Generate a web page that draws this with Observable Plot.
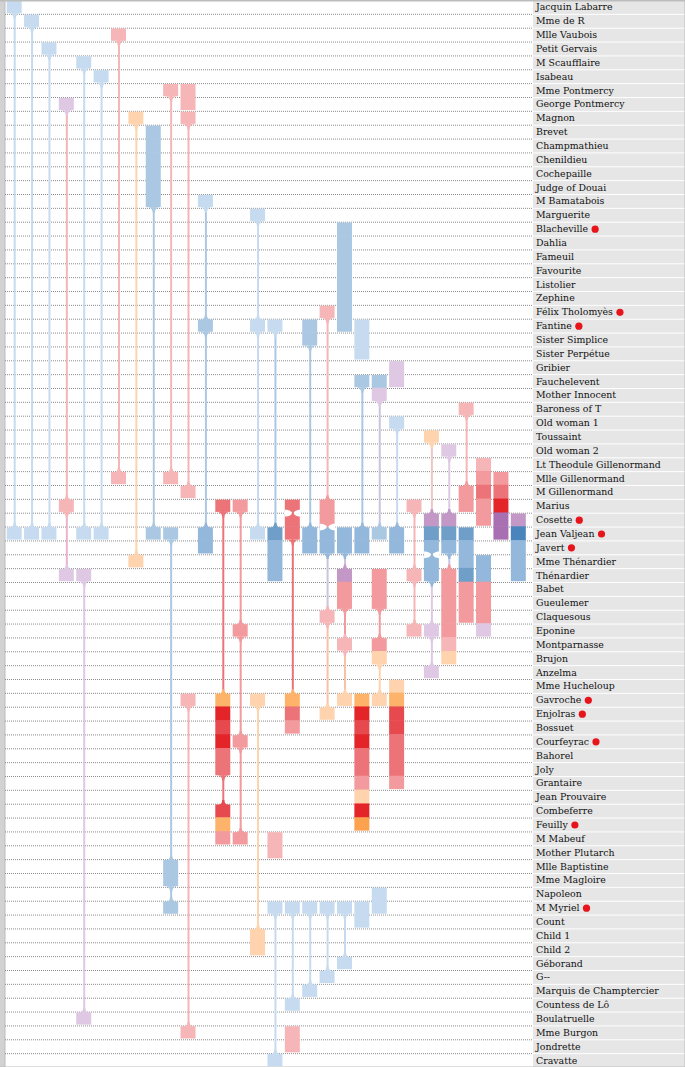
<!DOCTYPE html>
<html><head><meta charset="utf-8">
<script src="https://cdn.jsdelivr.net/npm/d3@7"></script>
<script src="https://cdn.jsdelivr.net/npm/@observablehq/plot@0.6"></script>
<style>body{margin:0;background:#fff}#chart svg{display:block}</style>
</head><body><div id="chart"></div>
<script>
// Characters (rows, top to bottom)
const names = ["Jacquin Labarre","Mme de R","Mlle Vaubois","Petit Gervais","M Scaufflaire","Isabeau","Mme Pontmercy","George Pontmercy","Magnon","Brevet","Champmathieu","Chenildieu","Cochepaille","Judge of Douai","M Bamatabois","Marguerite","Blacheville","Dahlia","Fameuil","Favourite","Listolier","Zephine","Félix Tholomyès","Fantine","Sister Simplice","Sister Perpétue","Gribier","Fauchelevent","Mother Innocent","Baroness of T","Old woman 1","Toussaint","Old woman 2","Lt Theodule Gillenormand","Mlle Gillenormand","M Gillenormand","Marius","Cosette","Jean Valjean","Javert","Mme Thénardier","Thénardier","Babet","Gueulemer","Claquesous","Eponine","Montparnasse","Brujon","Anzelma","Mme Hucheloup","Gavroche","Enjolras","Bossuet","Courfeyrac","Bahorel","Joly","Grantaire","Jean Prouvaire","Combeferre","Feuilly","M Mabeuf","Mother Plutarch","Mlle Baptistine","Mme Magloire","Napoleon","M Myriel","Count","Child 1","Child 2","Géborand","G--","Marquis de Champtercier","Countess de Lô","Boulatruelle","Mme Burgon","Jondrette","Cravatte"];

// Characters flagged with a red dot
const marked = ["Blacheville","Félix Tholomyès","Fantine","Cosette","Jean Valjean","Javert","Gavroche","Enjolras","Courfeyrac","Feuilly","M Myriel"];

// Boxes: [column, first row, per-row group/intensity codes]
const boxes = [
  [0,0,"b1"],[0,38,"b1"],
  [1,1,"b1"],[1,38,"b1"],
  [2,3,"b1"],[2,38,"b1"],
  [3,7,"p1"],[3,36,"r1"],[3,41,"p1"],
  [4,4,"b1"],[4,38,"b1"],[4,41,"p1"],[4,73,"p1"],
  [5,5,"b1"],[5,38,"b1"],
  [6,2,"r1"],[6,34,"r1"],
  [7,8,"o1"],[7,40,"o1"],
  [8,9,"b2 b2 b2 b2 b2 b2"],[8,38,"b2"],
  [9,6,"r1"],[9,34,"r1"],[9,38,"b2"],[9,62,"b2 b2"],[9,65,"b2"],
  [10,6,"r1 r1"],[10,8,"r1"],[10,35,"r1"],[10,50,"r1"],[10,74,"r1"],
  [11,14,"b1"],[11,23,"b2"],[11,38,"b3 b3"],
  [12,36,"r3"],[12,50,"o2 r5 r4 r5 r3 r3"],[12,58,"r4 o2 r2"],
  [13,36,"r2"],[13,45,"r2"],[13,53,"r2"],[13,60,"r2"],
  [14,15,"b1"],[14,23,"b1"],[14,38,"b1"],[14,50,"o1"],[14,67,"o1 o1"],
  [15,23,"b1"],[15,38,"b4 b3 b3 b3"],[15,60,"r1 r1"],[15,65,"b1"],[15,76,"b1"],
  [16,36,"r3"],[16,37,"r3 r3"],[16,50,"o2 r3 r2"],[16,65,"b1"],[16,72,"b1"],[16,74,"r1 r1"],
  [17,23,"b2 b2"],[17,38,"b3 b3"],[17,65,"b1"],[17,71,"b1"],
  [18,22,"r1"],[18,36,"r2 r2"],[18,38,"b3 b3"],[18,44,"r1"],[18,51,"o1"],[18,65,"b1"],[18,70,"b1"],
  [19,16,"b2 b2 b2 b2 b2 b2 b2 b2"],[19,38,"b3 b3"],[19,41,"p2 r2 r2"],[19,46,"r1"],[19,50,"o1"],[19,65,"b1"],[19,69,"b1"],
  [20,23,"b1 b1 b1"],[20,27,"b2"],[20,38,"b3 b3"],[20,50,"o2 r5 r4 r5 r3 r3 r2 o1 r5 o3"],[20,65,"b1 b1"],
  [21,27,"b2 p1"],[21,38,"b2"],[21,41,"r2 r2 r2"],[21,46,"r2 o1"],[21,50,"o1"],[21,64,"b1 b1"],
  [22,26,"p1 p1"],[22,30,"b1"],[22,38,"b3 b3"],[22,49,"o1 o2 r4 r4 r3 r3 r3 r2"],
  [23,36,"r1"],[23,41,"r1"],[23,45,"r1"],
  [24,31,"o1"],[24,37,"p2 b4 b3"],[24,40,"b3 b3"],[24,45,"p1"],[24,48,"p1"],
  [25,32,"p1"],[25,37,"p2 b4 b3"],[25,41,"r2 r2 r2 r2 r2 r1 o1"],
  [26,29,"r1"],[26,35,"r2 r2"],[26,38,"b4 b3 b3 b4 r2 r2 r2"],
  [27,33,"r1 r2 r3 r2 r2"],[27,40,"b3 b3 r2 r2 r2 p1"],
  [28,34,"r2 r3 r5 p3 p3"],
  [29,37,"p2 b5 b3 b3 b3"]
];

// Connections: [column, from row, to row, line code]
const links = [
  [0,0,38,"b1"],[1,1,38,"b1"],[2,3,38,"b1"],
  [3,7,36,"r1"],[3,36,41,"rp"],
  [4,4,38,"b1"],[4,41,73,"p1"],
  [5,5,38,"b1"],[6,2,34,"r1"],[7,8,40,"o1"],[8,14,38,"b2"],
  [9,6,34,"r1"],[9,38,62,"b2"],[9,63,65,"b2"],
  [10,8,35,"r1"],[10,50,74,"r1"],
  [11,14,23,"b2"],[11,23,38,"b2"],
  [12,36,50,"r3"],[12,55,58,"r3"],
  [13,36,45,"r2"],[13,45,53,"r2"],[13,53,60,"r2"],
  [14,15,23,"b1"],[14,23,38,"b1"],[14,50,67,"o1"],
  [15,23,38,"b2"],[15,65,76,"b1"],
  [16,36,37,"r3"],[16,38,50,"r3"],[16,65,72,"b1"],
  [17,24,38,"b2"],[17,65,71,"b1"],
  [18,22,36,"r1"],[18,37,38,"r2"],[18,39,44,"bp"],[18,44,51,"ro"],[18,65,70,"b1"],
  [19,39,41,"bp"],[19,43,46,"r2"],[19,46,50,"ro"],[19,65,69,"b1"],
  [20,27,38,"b2"],
  [21,28,38,"bp"],[21,43,46,"r2"],[21,47,50,"o1"],
  [22,30,38,"b1"],
  [23,36,41,"r1"],[23,41,45,"r1"],
  [24,31,37,"op"],[24,39,40,"b3"],[24,41,45,"p1"],[24,45,48,"p1"],
  [25,32,37,"p1"],[25,39,41,"bp"],
  [26,29,35,"r1"]
];

const codeDomain = ["b1","b2","b3","b4","b5","r1","r2","r3","r4","r5","o1","o2","o3","p1","p2","p3","bp","rp","ro","op"];
const codeRange  = ["#c6dbef","#abc8e3","#93b8db","#6f9fc9","#4a84bd","#f6b6b8","#f29a9d","#ec7478","#e74a4e","#e3252a","#fed3ad","#fdb46a","#fca24f","#dfc8e3","#c398c6","#a96fb3","#cbc3df","#e9b5cd","#f8c2a6","#ecc6c8"];

// ---- layout helpers ----
const W = 685, H = 1067, ROWS = names.length;
const X0 = 5.5, X1 = 527.0;           // pixel range of columns domain [-0.5, 29.5]
const u = (X1 - X0) / 30;
const px = p => -0.5 + (p - X0) / u;  // pixel -> x data
const rowPx = H / ROWS;
const ins = 0.8 / rowPx;

const cells = boxes.flatMap(([c, r0, s]) => {
  const codes = s.split(" ");
  return codes.map((code, k) => ({c, r: r0 + k, code, top: k === 0, bottom: k === codes.length - 1}));
});
const cellCode = new Map(cells.map(d => [d.c + ":" + d.r, d.code]));

const lines = links.map(([c, a, b, code]) => ({c, a, b, code}));
const fillDown = [], fillUp = [], pinches = [];
for (const {c, a, b} of lines) {
  if (b === a + 1) pinches.push({c, y: a + 0.5});
  else {
    fillDown.push({c, y: a + 0.5, code: cellCode.get(c + ":" + a)});
    fillUp.push({c, y: b - 0.5, code: cellCode.get(c + ":" + b)});
  }
}

const hw = u / 2 - 1.2;
const filletDown = {draw(p) {
  p.moveTo(-hw, -1.2); p.lineTo(hw, -1.2);
  p.bezierCurveTo(3.2, -1.2, 1.1, 0.8, 1.1, 4.2);
  p.lineTo(-1.1, 4.2);
  p.bezierCurveTo(-1.1, 0.8, -3.2, -1.2, -hw, -1.2);
  p.closePath();
}};
const filletUp = {draw(p) {
  p.moveTo(-hw, 1.2); p.lineTo(hw, 1.2);
  p.bezierCurveTo(3.2, 1.2, 1.1, -0.8, 1.1, -4.2);
  p.lineTo(-1.1, -4.2);
  p.bezierCurveTo(-1.1, -0.8, -3.2, 1.2, -hw, 1.2);
  p.closePath();
}};
const pinch = {draw(p) {
  for (const s of [1, -1]) {
    p.moveTo(s * (hw + 0.3), -3.4);
    p.bezierCurveTo(s * 3.5, -3.4, s * 1.1, -1.6, s * 1.1, 0);
    p.bezierCurveTo(s * 1.1, 1.6, s * 3.5, 3.4, s * (hw + 0.3), 3.4);
    p.closePath();
  }
}};

const FONT = "DejaVu Serif", FS = 9.4;
const ctx = document.createElement("canvas").getContext("2d");
ctx.font = `${FS}px '${FONT}'`;
const LABEL_PX = 535.5;

const boundaries = d3.range(1, ROWS);

const chart = Plot.plot({
  width: W, height: H,
  marginLeft: X0, marginRight: W - X1, marginTop: 0, marginBottom: 0,
  x: {domain: [-0.5, 29.5], axis: null},
  y: {domain: [-0.5, ROWS - 0.5], reverse: true, axis: null},
  color: {domain: codeDomain, range: codeRange},
  style: {background: "#fff"},
  marks: [
    // label panel and left strip
    Plot.rect([0], {x1: () => px(533), x2: () => px(W), y1: () => -0.5, y2: () => ROWS - 0.5, fill: "#e6e6e6"}),
    Plot.rect([0], {x1: () => px(0), x2: () => px(5), y1: () => -0.5, y2: () => ROWS - 0.5, fill: "#d2d2d2"}),
    Plot.ruleX([0], {x: () => px(4.5), y1: () => -0.5, y2: () => ROWS - 0.5, stroke: "#bdbdbd", strokeWidth: 1}),
    // row grid
    Plot.ruleY(boundaries, {y: d => d - 0.5, x1: () => px(5), x2: () => px(533), stroke: "#8c8c8c", strokeDasharray: "1,1", strokeWidth: 1}),
    Plot.ruleY(boundaries, {y: d => d - 0.5, x1: () => px(533), x2: () => px(W), stroke: "#fff", strokeWidth: 1}),
    // connecting lines
    Plot.ruleX(lines, {x: "c", y1: "a", y2: "b", stroke: "code", strokeWidth: 2}),
    // boxes
    Plot.rect(cells, {
      x1: d => d.c - 0.5, x2: d => d.c + 0.5,
      y1: d => d.r - 0.5 + (d.top ? ins : -0.02),
      y2: d => d.r + 0.5 - (d.bottom ? ins : -0.02),
      insetLeft: 1.2, insetRight: 1.2, fill: "code"
    }),
    // fillets where lines meet boxes
    Plot.dot(fillDown, {x: "c", y: "y", fill: "code", symbol: filletDown, r: 1}),
    Plot.dot(fillUp, {x: "c", y: "y", fill: "code", symbol: filletUp, r: 1}),
    Plot.dot(pinches, {x: "c", y: "y", fill: "#fff", symbol: pinch, r: 1}),
    // labels
    Plot.text(names, {x: () => px(LABEL_PX), y: (d, i) => i, text: d => d, textAnchor: "start", fontFamily: FONT, fontSize: FS, fill: "#111"}),
    Plot.dot(marked, {x: d => px(LABEL_PX + ctx.measureText(d).width + 7), y: d => names.indexOf(d), r: 3.6, fill: "#e8141c"}),
    // frame
    Plot.ruleY([0], {y: () => -0.5, x1: () => px(0), x2: () => px(W), stroke: "#bdbdbd", strokeWidth: 2}),
    Plot.ruleY([0], {y: () => ROWS - 0.5, x1: () => px(0), x2: () => px(W), stroke: "#bdbdbd", strokeWidth: 2}),
    Plot.ruleX([0], {x: () => px(W - 0.5), y1: () => -0.5, y2: () => ROWS - 0.5, stroke: "#bdbdbd", strokeWidth: 1})
  ]
});
document.getElementById("chart").appendChild(chart);
</script>
</body></html>
